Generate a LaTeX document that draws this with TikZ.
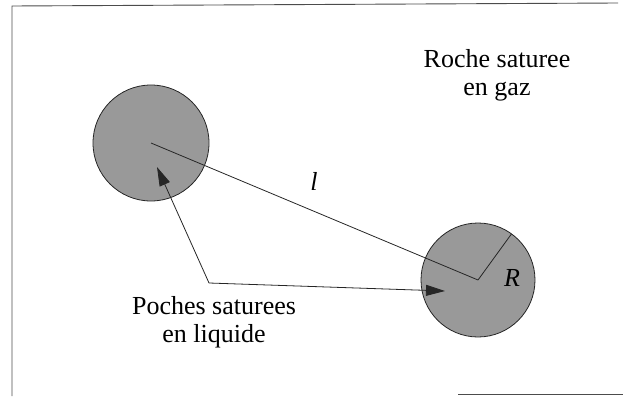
\documentclass[tikz,border=0pt]{standalone}
\usepackage{fontspec}
\setmainfont{Liberation Serif}
\usetikzlibrary{arrows.meta, positioning}

\tikzset{
  poche/.style={circle, draw=black!85, line width=0.8pt, fill=gray!80, inner sep=0pt, outer sep=0pt},
  trait/.style={line width=0.8pt, black!85},
  fleche/.style={line width=0.8pt, black!85, -{Triangle[length=19pt, width=11pt]}},
  cadre/.style={line width=0.9pt, black!70},
  etiquette/.style={font=\rmfamily\fontsize{26}{28}\selectfont, align=center}
}

\begin{document}
\begin{tikzpicture}[x=1pt, y=1pt]
    \useasboundingbox (0,0) rectangle (623,-396);
    % cadre
    \draw[cadre] (12,-396) -- (12,-6) -- (618,-3);
    \draw[cadre] (458,-394) -- (623,-394);

    \node[poche, minimum size=116pt] (p1) at (151,-143) {};
    \node[poche, minimum size=114pt] (p2) at (478,-280) {};

    \draw[trait] (p1.center) -- (p2.center);
    \draw[trait] (p2.center) -- (p2.54);

    \coordinate (coude) at (209,-283);
    \coordinate (pointe1) at (157,-167);
    \coordinate (pointe2) at (445,-291);
    \draw[fleche] (coude) -- (pointe1);
    \draw[fleche] (coude) -- (pointe2);

    \node[etiquette] (dist) at (314,-181) {\itshape l};
    \node[etiquette] (rayon) at (512,-278) {\itshape R};
    \node[etiquette] (roche) at (497,-75) {Roche saturee\\en gaz};
    \node[etiquette] (poches) at (214,-322) {Poches saturees\\en liquide};
  \end{tikzpicture}
\end{document}
